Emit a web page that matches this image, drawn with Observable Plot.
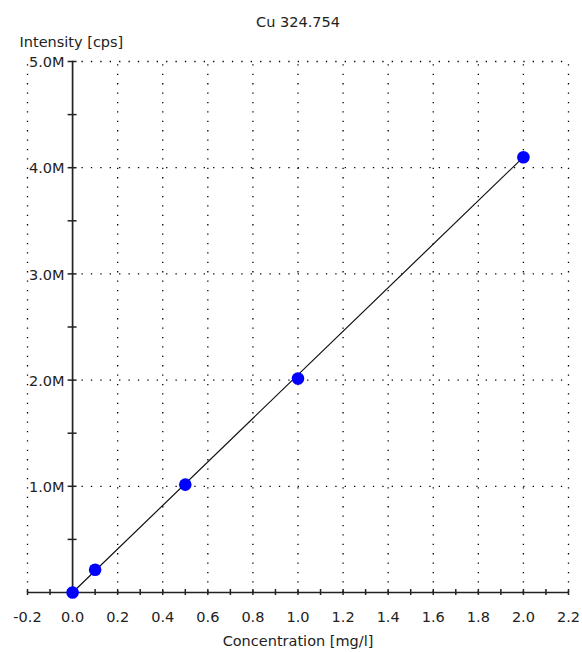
<!DOCTYPE html>
<html>
<head>
<meta charset="utf-8">
<script src="https://cdn.jsdelivr.net/npm/d3@7"></script>
<script src="https://cdn.jsdelivr.net/npm/@observablehq/plot@0.6"></script>
<style>
  html, body { margin: 0; padding: 0; background: #fff; }
</style>
</head>
<body>
<div id="chart"></div>
<script>
// Data
const concentrations = [0.0, 0.1, 0.5, 1.0, 2.0];           // mg/l
const intensities = [0, 214000, 1016000, 2015000, 4099000];  // cps
const fitConcentrations = [0.0, 2.0];
const fitIntensities = [0, 4100000];

const xMajorTicks = [-0.2, 0.0, 0.2, 0.4, 0.6, 0.8, 1.0, 1.2, 1.4, 1.6, 1.8, 2.0, 2.2];
const xTickLabels = ["-0.2", "0.0", "0.2", "0.4", "0.6", "0.8", "1.0", "1.2", "1.4", "1.6", "1.8", "2.0", "2.2"];
const xMinorTicks = [-0.1, 0.1, 0.3, 0.5, 0.7, 0.9, 1.1, 1.3, 1.5, 1.7, 1.9, 2.1];
const xGridTicks = [-0.2, 0.2, 0.4, 0.6, 0.8, 1.0, 1.2, 1.4, 1.6, 1.8, 2.0, 2.2];
const yMajorTicks = [1000000, 2000000, 3000000, 4000000, 5000000];
const yTickLabels = ["1.0M", "2.0M", "3.0M", "4.0M", "5.0M"];
const yMinorTicks = [500000, 1500000, 2500000, 3500000, 4500000];

const title = "Cu 324.754";
const yLabel = "Intensity [cps]";
const xLabel = "Concentration [mg/l]";

const points = concentrations.map((c, i) => ({c, v: intensities[i]}));
const fit = fitConcentrations.map((c, i) => ({c, v: fitIntensities[i]}));

const ink = "#222";
const dotted = {stroke: "#000", strokeWidth: 1.3, strokeDasharray: "1.3 8.1"};

const chart = Plot.plot({
  width: 582,
  height: 652,
  marginTop: 61,
  marginBottom: 60,
  marginLeft: 27,
  marginRight: 14,
  x: {domain: [-0.2, 2.2], axis: null},
  y: {domain: [0, 5000000], axis: null},
  style: {fontFamily: "DejaVu Sans", fontSize: "14.5px", background: "#fff", color: ink},
  marks: [
    // dotted grid
    Plot.ruleX(xGridTicks, {x: d => d, y1: () => 0, y2: () => 5000000, ...dotted}),
    Plot.ruleY(yMajorTicks, {y: d => d, x1: () => 0, x2: () => 2.2, ...dotted}),
    // axis lines
    Plot.ruleY([0], {y: d => d, x1: () => -0.2, x2: () => 2.2, stroke: ink, strokeWidth: 1.7}),
    Plot.ruleX([0], {x: d => d, y1: () => 0, y2: () => 5000000, stroke: ink, strokeWidth: 1.7}),
    // y ticks (crossing the axis)
    Plot.ruleY(yMajorTicks.concat(yMinorTicks), {y: d => d, x1: () => 0, x2: () => 0, insetLeft: -4.5, insetRight: -4.5, stroke: ink, strokeWidth: 1.5}),
    // x ticks (crossing the axis)
    Plot.ruleX(xMajorTicks.concat(xMinorTicks), {x: d => d, y1: () => 0, y2: () => 0, insetTop: -3, insetBottom: -3, stroke: ink, strokeWidth: 1.5}),
    // calibration line
    Plot.line(fit, {x: "c", y: "v", stroke: "#111", strokeWidth: 1.2}),
    // standards
    Plot.dot(points, {x: "c", y: "v", r: 6.3, fill: "#0000ff", stroke: "none"}),
    // tick labels
    Plot.text(yMajorTicks, {x: () => 0, y: d => d, text: (d, i) => yTickLabels[i], textAnchor: "end", lineAnchor: "middle", dx: -8, dy: 1, fill: ink}),
    Plot.text(xMajorTicks, {x: d => d, y: () => 0, text: (d, i) => xTickLabels[i], lineAnchor: "middle", dy: 25, fill: ink}),
    // titles
    Plot.text([title], {text: d => d, frameAnchor: "top", lineAnchor: "middle", dy: -39, fill: ink}),
    Plot.text([yLabel], {text: d => d, frameAnchor: "top-left", textAnchor: "start", lineAnchor: "middle", dx: -8, dy: -19, fill: ink}),
    Plot.text([xLabel], {text: d => d, frameAnchor: "bottom", lineAnchor: "middle", dy: 49, fill: ink})
  ]
});

document.getElementById("chart").appendChild(chart);
</script>
</body>
</html>
